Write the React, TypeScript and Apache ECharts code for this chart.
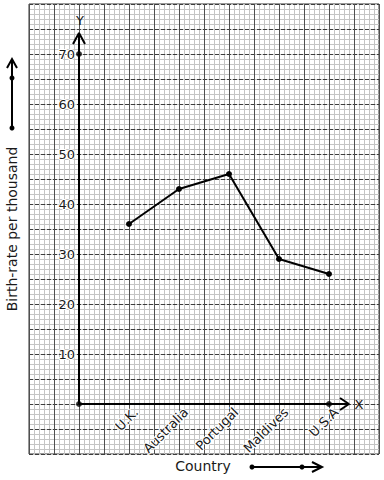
import React, { useEffect, useRef } from "react";
import * as echarts from "echarts";

const categories = ["U.K.", "Australia", "Portugal", "Maldives", "U.S.A"];
const birthRates = [36, 43, 46, 29, 26];
const yTickLabels = [10, 20, 30, 40, 50, 60, 70];
const extraPoints = [
  [0, 0],
  [0, 70],
  [5, 0],
];
const xTitle = "Country";
const yTitle = "Birth-rate per thousand";

const FONT = "DejaVu Sans";

export default function App() {
  const ref = useRef<HTMLDivElement>(null);
  useEffect(() => {
    if (!ref.current) return;
    const chart = echarts.init(ref.current, null, { renderer: "svg" });
    const lineData = categories.map((c, i) => [i + 1, birthRates[i]]);
    const axisLineStyle = { color: "#000", width: 2 };
    const hidden = {
      axisLine: { show: false },
      axisTick: { show: false },
      axisLabel: { show: false },
    };
    chart.setOption({
      animation: false,
      backgroundColor: "#fff",
      grid: {
        left: 29,
        right: 5,
        top: 4,
        bottom: 26,
        show: true,
        borderColor: "#333",
        borderWidth: 1,
      },
      xAxis: [
        {
          type: "value",
          min: -1,
          max: 6,
          interval: 0.1,
          z: 0,
          ...hidden,
          splitLine: { show: true, lineStyle: { color: "#c4c4c4", width: 1 } },
        },
        {
          type: "value",
          min: -1,
          max: 6,
          interval: 0.5,
          z: 1,
          ...hidden,
          splitLine: { show: true, lineStyle: { color: "#505050", width: 1 } },
        },
        {
          type: "value",
          min: -1,
          max: 6,
          interval: 1,
          position: "bottom",
          offset: -50,
          z: 2,
          axisLine: { show: false },
          axisTick: { show: false },
          splitLine: { show: false },
          axisLabel: {
            show: true,
            rotate: 45,
            margin: 13,
            padding: [0, -10, 0, 0],
            fontFamily: FONT,
            fontSize: 13,
            color: "#1a1a1a",
            textBorderColor: "#fff",
            textBorderWidth: 2,
            formatter: (v: number) => categories[Math.round(v) - 1] ?? "",
          },
        },
      ],
      yAxis: [
        {
          type: "value",
          min: -10,
          max: 80,
          interval: 1,
          z: 0,
          ...hidden,
          splitLine: { show: true, lineStyle: { color: "#c4c4c4", width: 1 } },
        },
        {
          type: "value",
          min: -10,
          max: 80,
          interval: 5,
          z: 1,
          ...hidden,
          splitLine: { show: true, lineStyle: { color: "#3c3c3c", width: 1, type: [4, 2] } },
        },
        {
          type: "value",
          min: -10,
          max: 80,
          interval: 10,
          position: "left",
          offset: -50,
          z: 2,
          axisLine: { show: false },
          axisTick: { show: false },
          splitLine: { show: false },
          axisLabel: {
            show: true,
            margin: 4,
            fontFamily: FONT,
            fontSize: 13,
            color: "#1a1a1a",
            textBorderColor: "#fff",
            textBorderWidth: 2,
            formatter: (v: number) => (yTickLabels.includes(Math.round(v)) ? String(Math.round(v)) : ""),
          },
        },
      ],
      series: [
        {
          type: "line",
          data: [
            [0, 0],
            [0, 74.2],
          ],
          symbol: "none",
          silent: true,
          lineStyle: axisLineStyle,
          z: 5,
        },
        {
          type: "line",
          data: [
            [-0.12, 72],
            [0, 74.2],
            [0.12, 72],
          ],
          symbol: "none",
          silent: true,
          lineStyle: axisLineStyle,
          z: 5,
        },
        {
          type: "line",
          data: [
            [0, 0],
            [5.4, 0],
          ],
          symbol: "none",
          silent: true,
          lineStyle: axisLineStyle,
          z: 5,
        },
        {
          type: "line",
          data: [
            [5.22, 1.2],
            [5.4, 0],
            [5.22, -1.2],
          ],
          symbol: "none",
          silent: true,
          lineStyle: axisLineStyle,
          z: 5,
        },
        {
          type: "line",
          data: lineData,
          symbol: "circle",
          symbolSize: 6,
          itemStyle: { color: "#000" },
          lineStyle: { color: "#000", width: 2 },
          z: 6,
        },
        {
          type: "scatter",
          data: extraPoints,
          symbolSize: 6,
          itemStyle: { color: "#000" },
          z: 6,
        },
      ],
      graphic: [
        {
          type: "text",
          x: 80,
          y: 20,
          style: { text: "Y", font: `13px "${FONT}"`, fill: "#1a1a1a", align: "center", verticalAlign: "middle" },
          z: 10,
        },
        {
          type: "text",
          x: 359,
          y: 404,
          style: { text: "X", font: `13px "${FONT}"`, fill: "#1a1a1a", align: "center", verticalAlign: "middle" },
          z: 10,
        },
        {
          type: "text",
          x: 203,
          y: 466,
          style: { text: xTitle, font: `14px "${FONT}"`, fill: "#1a1a1a", align: "center", verticalAlign: "middle" },
        },
        {
          type: "text",
          x: 12,
          y: 229,
          rotation: Math.PI / 2,
          style: { text: yTitle, font: `14px "${FONT}"`, fill: "#1a1a1a", align: "center", verticalAlign: "middle" },
        },
        // left arrow
        { type: "line", shape: { x1: 12, y1: 128, x2: 12, y2: 59 }, style: { stroke: "#000", lineWidth: 2 } },
        {
          type: "polyline",
          shape: { points: [[7, 68], [12, 59], [17, 68]] },
          style: { stroke: "#000", lineWidth: 2, fill: null },
        },
        { type: "circle", shape: { cx: 12, cy: 78, r: 2.5 }, style: { fill: "#000" } },
        { type: "circle", shape: { cx: 12, cy: 128, r: 2.5 }, style: { fill: "#000" } },
        // bottom arrow
        { type: "line", shape: { x1: 252, y1: 467, x2: 322, y2: 467 }, style: { stroke: "#000", lineWidth: 2 } },
        {
          type: "polyline",
          shape: { points: [[312, 462], [322, 467], [312, 472]] },
          style: { stroke: "#000", lineWidth: 2, fill: null },
        },
        { type: "circle", shape: { cx: 252, cy: 467, r: 2.5 }, style: { fill: "#000" } },
        { type: "circle", shape: { cx: 302, cy: 467, r: 2.5 }, style: { fill: "#000" } },
      ],
    });
    return () => chart.dispose();
  }, []);
  return <div ref={ref} style={{ position: "absolute", left: 0, top: 0, width: 384, height: 480 }} />;
}
